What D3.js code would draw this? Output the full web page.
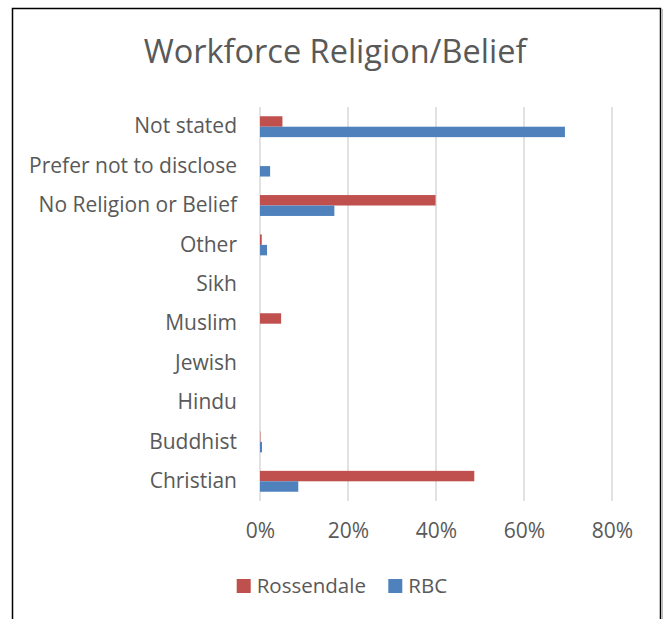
<!DOCTYPE html>
<html>
<head>
<meta charset="utf-8">
<script src="https://cdn.jsdelivr.net/npm/d3@7"></script>
<style>
  html, body { margin: 0; padding: 0; background: #fff; }
  svg { display: block; }
  text { font-family: "Open Sans", Lato, "Liberation Sans", sans-serif; fill: #595959; }
</style>
</head>
<body>
<svg id="chart" width="668" height="619"></svg>
<script>
const categories = ["Not stated", "Prefer not to disclose", "No Religion or Belief", "Other", "Sikh", "Muslim", "Jewish", "Hindu", "Buddhist", "Christian"];
const seriesNames = ["Rossendale", "RBC"];
const rossendale = [5.1, 0, 39.9, 0.4, 0, 4.8, 0, 0, 0.1, 48.7];
const rbc = [69.3, 2.3, 16.9, 1.6, 0, 0, 0, 0, 0.45, 8.7];
const tickValues = [0, 20, 40, 60, 80];
const colors = ["#C0504D", "#4F81BD"];

const svg = d3.select("#chart");

// chart border
svg.append("rect").attr("x", 12.5).attr("y", 8.5).attr("width", 648).attr("height", 640)
  .attr("fill", "none").attr("stroke", "#000").attr("stroke-width", 1.5);
svg.append("line").attr("x1", 662.5).attr("x2", 662.5).attr("y1", 9).attr("y2", 619)
  .attr("stroke", "#bbb").attr("stroke-width", 1);

const x = d3.scaleLinear().domain([0, 80]).range([260, 612]);
const y = d3.scaleBand().domain(categories).range([107, 501]).paddingInner(0.47).paddingOuter(0.235);
const sub = d3.scaleBand().domain(seriesNames).range([0, y.bandwidth()]);

// title
svg.append("text").attr("x", 335).attr("y", 63).attr("text-anchor", "middle")
  .style("font-size", "32.5px").text("Workforce Religion/Belief");

// gridlines
svg.append("g").selectAll("line").data(tickValues).join("line")
  .attr("x1", d => x(d)).attr("x2", d => x(d)).attr("y1", 107).attr("y2", 501)
  .attr("stroke", "#d9d9d9").attr("stroke-width", 1.5);

// x axis labels
const xAxis = d3.axisBottom(x).tickValues(tickValues).tickFormat(d => d + "%").tickSize(0).tickPadding(0);
const gx = svg.append("g").attr("transform", "translate(0,501)").call(xAxis);
gx.select(".domain").remove();
gx.selectAll("text").attr("dy", null).attr("y", 37).style("font-size", "21px").attr("fill", "#595959");

// y axis labels
const yAxis = d3.axisLeft(y).tickSize(0).tickPadding(0);
const gy = svg.append("g").attr("transform", "translate(237,0)").call(yAxis);
gy.select(".domain").remove();
gy.selectAll("text").style("font-size", "21px").attr("fill", "#595959");

// bars
const data = categories.map((c, i) => ({ cat: c, vals: [rossendale[i], rbc[i]] }));
const groups = svg.append("g").selectAll("g").data(data).join("g")
  .attr("transform", d => `translate(0,${y(d.cat)})`);
groups.selectAll("rect").data(d => d.vals.map((v, j) => ({ v, s: seriesNames[j], c: colors[j] })))
  .join("rect")
  .attr("x", x(0))
  .attr("y", d => sub(d.s))
  .attr("height", sub.bandwidth())
  .attr("width", d => x(d.v) - x(0))
  .attr("fill", d => d.c);

// legend
const legendX = [236.7, 388.3];
const legend = svg.append("g").selectAll("g").data(seriesNames).join("g")
  .attr("transform", (d, i) => `translate(${legendX[i]},579)`);
legend.append("rect").attr("width", 14).attr("height", 14).attr("fill", (d, i) => colors[i]);
legend.append("text").attr("x", 20).attr("y", 7).attr("dy", "0.35em").style("font-size", "20.5px").text(d => d);
</script>
</body>
</html>
